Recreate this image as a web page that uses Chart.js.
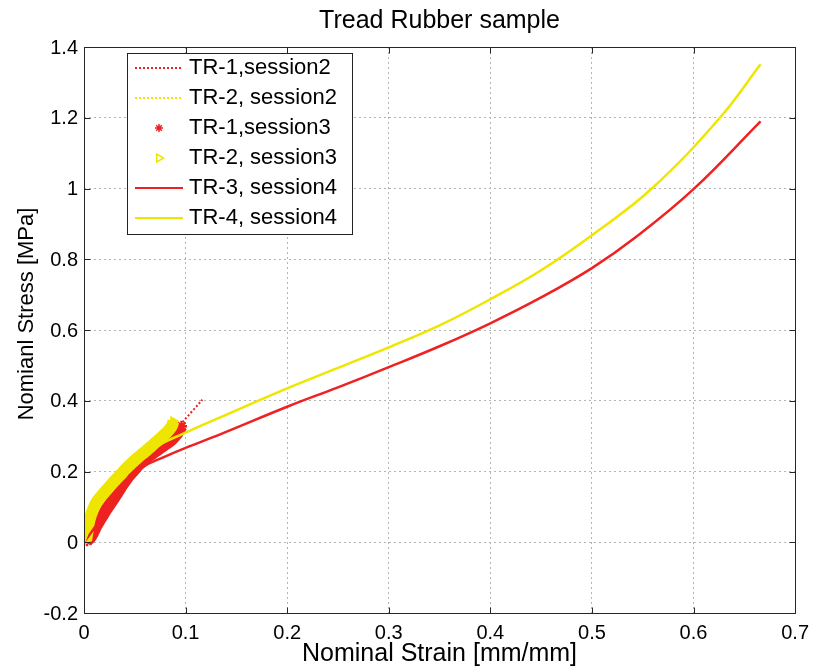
<!DOCTYPE html>
<html>
<head>
<meta charset="utf-8">
<script src="https://cdn.jsdelivr.net/npm/chart.js@4/dist/chart.umd.min.js"></script>
<style>
  html, body { margin: 0; padding: 0; background: #fff; }
  #wrap { width: 817px; height: 669px; }
</style>
</head>
<body>
<div id="wrap"><canvas id="c" width="817" height="669"></canvas></div>
<script>
// ---------- data ----------
const xTickLabels = ['0', '0.1', '0.2', '0.3', '0.4', '0.5', '0.6', '0.7'];
const yTickLabels = ['-0.2', '0', '0.2', '0.4', '0.6', '0.8', '1', '1.2', '1.4'];

// TR-1, session2 (red dotted)
const tr1s2Strain = [0, 0.01, 0.02, 0.04, 0.06, 0.08, 0.096, 0.1165];
const tr1s2Stress = [0, 0.04, 0.08, 0.16, 0.225, 0.28, 0.336, 0.403];

// TR-2, session2 (yellow dotted)
const tr2s2Strain = [0, 0.005, 0.02, 0.04, 0.06, 0.08, 0.088];
const tr2s2Stress = [0, 0.06, 0.15, 0.21, 0.26, 0.31, 0.335];

// TR-1, session3 (red asterisks)
const tr1s3Strain = [0.003, 0.006, 0.009, 0.012, 0.015, 0.018, 0.021, 0.024, 0.027, 0.030,
                     0.033, 0.036, 0.039, 0.042, 0.045, 0.048, 0.051, 0.054, 0.058, 0.062,
                     0.066, 0.070, 0.074, 0.078, 0.082, 0.086, 0.089, 0.092, 0.094, 0.096];
const tr1s3Stress = [0.004, 0.012, 0.027, 0.045, 0.060, 0.074, 0.088, 0.101, 0.114, 0.127,
                     0.140, 0.154, 0.167, 0.179, 0.190, 0.200, 0.210, 0.220, 0.231, 0.240,
                     0.248, 0.256, 0.264, 0.272, 0.280, 0.289, 0.298, 0.308, 0.318, 0.328];

// TR-2, session3 (yellow triangles)
const tr2s3Strain = [0.002, 0.003, 0.004, 0.005, 0.007, 0.009, 0.011, 0.013, 0.016, 0.019,
                     0.022, 0.025, 0.028, 0.031, 0.034, 0.037, 0.040, 0.043, 0.046, 0.049,
                     0.052, 0.055, 0.058, 0.061, 0.064, 0.067, 0.070, 0.073, 0.076, 0.079,
                     0.082, 0.085, 0.087, 0.088];
const tr2s3Stress = [0.005, 0.022, 0.040, 0.058, 0.078, 0.093, 0.106, 0.116, 0.127, 0.137,
                     0.147, 0.157, 0.167, 0.176, 0.185, 0.194, 0.204, 0.213, 0.221, 0.229,
                     0.237, 0.244, 0.251, 0.258, 0.266, 0.273, 0.281, 0.288, 0.296, 0.304,
                     0.312, 0.322, 0.332, 0.342];

// TR-3, session4 (red solid)
const tr3s4Strain = [0, 0.015, 0.035, 0.058, 0.078, 0.1, 0.134, 0.2, 0.25, 0.3, 0.35, 0.4, 0.45, 0.5, 0.543, 0.6, 0.666];
const tr3s4Stress = [0, 0.06, 0.15, 0.212, 0.240, 0.267, 0.305, 0.383, 0.438, 0.495, 0.554, 0.619, 0.692, 0.775, 0.862, 0.998, 1.19];

// TR-4, session4 (yellow solid)
const tr4s4Strain = [0, 0.01, 0.03, 0.065, 0.1, 0.134, 0.2, 0.25, 0.3, 0.35, 0.4, 0.45, 0.5, 0.559, 0.626, 0.666];
const tr4s4Stress = [0, 0.07, 0.17, 0.26, 0.31, 0.353, 0.435, 0.493, 0.551, 0.613, 0.687, 0.769, 0.868, 1.0, 1.2, 1.351];

const seriesLabels = ['TR-1,session2', 'TR-2, session2', 'TR-1,session3', 'TR-2, session3', 'TR-3, session4', 'TR-4, session4'];

// ---------- build ----------
const RED = '#ee2222';
const YEL = '#eee600';
const FONT = '"Liberation Sans", Arial, Helvetica, sans-serif';
const zip = (xs, ys) => xs.map((v, i) => ({ x: v, y: ys[i] }));

const datasets = [
  { label: seriesLabels[0], data: zip(tr1s2Strain, tr1s2Stress), showLine: true, borderColor: RED,
    borderWidth: 2, borderDash: [2, 2], pointRadius: 0, tension: 0.3, order: 5 },
  { label: seriesLabels[1], data: zip(tr2s2Strain, tr2s2Stress), showLine: true, borderColor: YEL,
    borderWidth: 2, borderDash: [2, 2], pointRadius: 0, tension: 0.3, order: 4 },
  { label: seriesLabels[2], data: zip(tr1s3Strain, tr1s3Stress), showLine: true, borderColor: RED,
    borderWidth: 12, borderCapStyle: 'butt', borderJoinStyle: 'round', tension: 0.3,
    pointStyle: 'star', pointRadius: 5.5, pointBorderWidth: 2.5, pointBorderColor: RED, pointBackgroundColor: RED, order: 3 },
  { label: seriesLabels[3], data: zip(tr2s3Strain, tr2s3Stress), showLine: true, borderColor: YEL,
    borderWidth: 12, borderCapStyle: 'butt', borderJoinStyle: 'round', tension: 0.3,
    pointStyle: 'triangle', pointRotation: 90, pointRadius: 5.5, pointBorderWidth: 1,
    pointBorderColor: YEL, pointBackgroundColor: YEL, order: 2 },
  { label: seriesLabels[4], data: zip(tr3s4Strain, tr3s4Stress), showLine: true, borderColor: RED,
    borderWidth: 2.5, pointRadius: 0, tension: 0.4, order: 1 },
  { label: seriesLabels[5], data: zip(tr4s4Strain, tr4s4Stress), showLine: true, borderColor: YEL,
    borderWidth: 2.5, pointRadius: 0, tension: 0.4, order: 0 }
];

const framePlugin = {
  id: 'frameAndLegend',
  afterDraw(chart) {
    const { ctx, chartArea } = chart;
    const { left, right, top, bottom } = chartArea;
    const xs = chart.scales.x, ys = chart.scales.y;
    ctx.save();
    // frame
    ctx.strokeStyle = '#262626';
    ctx.lineWidth = 1;
    ctx.setLineDash([]);
    const L = Math.round(left) + 0.5, R = Math.round(right) + 0.5, T = Math.round(top) + 0.5, B = Math.round(bottom) + 0.5;
    ctx.strokeRect(L, T, R - L, B - T);
    // inward ticks
    ctx.beginPath();
    xs.ticks.forEach(t => {
      const px = Math.round(xs.getPixelForValue(t.value)) + 0.5;
      ctx.moveTo(px, B); ctx.lineTo(px, B - 6);
      ctx.moveTo(px, T); ctx.lineTo(px, T + 6);
    });
    ys.ticks.forEach(t => {
      const py = Math.round(ys.getPixelForValue(t.value)) + 0.5;
      ctx.moveTo(L, py); ctx.lineTo(L + 6, py);
      ctx.moveTo(R, py); ctx.lineTo(R - 6, py);
    });
    ctx.stroke();

    // y axis title (placed as in the reference, slightly above the centre)
    ctx.save();
    ctx.translate(33, 314);
    ctx.rotate(-Math.PI / 2);
    ctx.fillStyle = '#000';
    ctx.font = '22px ' + FONT;
    ctx.textAlign = 'center';
    ctx.textBaseline = 'alphabetic';
    ctx.fillText('Nomianl Stress [MPa]', 0, 0);
    ctx.restore();

    // legend box
    const bx = 127.5, by = 53.5, bw = 225, bh = 181;
    ctx.fillStyle = '#fff';
    ctx.fillRect(bx, by, bw, bh);
    ctx.strokeStyle = '#222';
    ctx.strokeRect(bx, by, bw, bh);
    ctx.font = '22px ' + FONT;
    ctx.textBaseline = 'middle';
    ctx.textAlign = 'left';
    chart.data.datasets.forEach((ds, i) => {
      const cy = 68 + 30 * i;
      ctx.save();
      if (!ds.pointRadius) {
        ctx.strokeStyle = ds.borderColor;
        ctx.lineWidth = 2;
        ctx.setLineDash(ds.borderDash || []);
        ctx.beginPath();
        ctx.moveTo(135, cy); ctx.lineTo(183, cy);
        ctx.stroke();
      } else {
        ctx.setLineDash([]);
        ctx.strokeStyle = ds.pointBorderColor;
        ctx.fillStyle = 'rgba(0,0,0,0)';
        ctx.lineWidth = 1.5;
        Chart.helpers.drawPoint(ctx, {
          pointStyle: ds.pointStyle,
          rotation: ds.pointRotation || 0,
          radius: ds.pointStyle === 'star' ? 4 : 4.5,
          borderWidth: 1.5
        }, 159, cy);
      }
      ctx.restore();
      ctx.fillStyle = '#000';
      ctx.fillText(ds.label, 189, cy);
    });
    ctx.restore();
  }
};

new Chart(document.getElementById('c'), {
  type: 'scatter',
  data: { datasets },
  plugins: [framePlugin],
  options: {
    responsive: false,
    animation: false,
    layout: { padding: { left: 0, right: 20, top: 0, bottom: 0 } },
    plugins: {
      legend: { display: false },
      tooltip: { enabled: false },
      title: {
        display: true,
        fullSize: false,
        text: 'Tread Rubber sample',
        color: '#000',
        font: { family: FONT, size: 25, weight: 'normal' },
        padding: { top: 6, bottom: 11 }
      }
    },
    scales: {
      x: {
        type: 'linear',
        min: 0, max: 0.7,
        afterFit: s => { s.height = 56; },
        ticks: {
          stepSize: 0.1,
          color: '#000',
          padding: 8,
          maxRotation: 0,
          autoSkip: false,
          font: { family: FONT, size: 20 },
          callback: (v, i) => xTickLabels[i]
        },
        grid: { color: '#b4b4b4', lineWidth: 1, drawTicks: false },
        border: { display: false, dash: [2, 3] },
        title: {
          display: true,
          text: 'Nominal Strain [mm/mm]',
          color: '#000',
          font: { family: FONT, size: 25 },
          padding: { top: 0, bottom: 0 }
        }
      },
      y: {
        type: 'linear',
        min: -0.2, max: 1.4,
        afterFit: s => { s.width = 84; },
        ticks: {
          stepSize: 0.2,
          color: '#000',
          padding: 6,
          labelOffset: 1,
          autoSkip: false,
          font: { family: FONT, size: 20 },
          callback: (v, i) => yTickLabels[i]
        },
        grid: { color: '#b4b4b4', lineWidth: 1, drawTicks: false },
        border: { display: false, dash: [2, 3] },
        title: { display: false }
      }
    }
  }
});
</script>
</body>
</html>
